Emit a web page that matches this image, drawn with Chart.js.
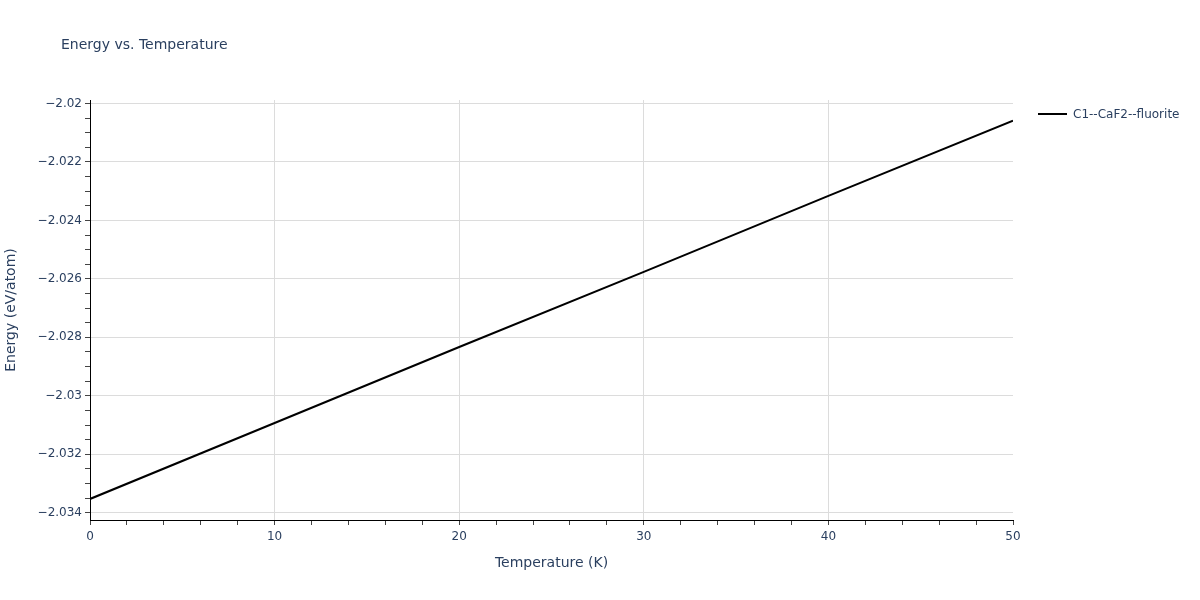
<!DOCTYPE html>
<html>
<head>
<meta charset="utf-8">
<script src="https://cdn.jsdelivr.net/npm/chart.js@4.4.0/dist/chart.umd.min.js"></script>
<style>
  html, body { margin: 0; padding: 0; background: #fff; }
  canvas { display: block; }
</style>
</head>
<body>
<canvas id="c" width="1200" height="600"></canvas>
<script>
// ---- data ----
const temperatures = [0, 10, 20, 30, 40, 50];
const energies = [-2.03353, -2.03093, -2.02833, -2.02576, -2.02316, -2.02059];
const seriesName = 'C1--CaF2--fluorite';
const xMajorTicks = [0, 10, 20, 30, 40, 50];
const xMinorStep = 2;
const yMajorTicks = [-2.034, -2.032, -2.03, -2.028, -2.026, -2.024, -2.022, -2.02];
const yTickLabels = ['\u22122.034', '\u22122.032', '\u22122.03', '\u22122.028', '\u22122.026', '\u22122.024', '\u22122.022', '\u22122.02'];
const yMinorStep = 0.0005;
const chartTitle = 'Energy vs. Temperature';
const xTitle = 'Temperature (K)';
const yTitle = 'Energy (eV/atom)';

const TEXT = '#2a3f5f';
const FONT = '"DejaVu Sans", Verdana, sans-serif';
const near = (a, b) => Math.abs(a - b) < 1e-9;

const textPlugin = {
  id: 'texts',
  afterDraw(chart) {
    const ctx = chart.ctx;
    const a = chart.chartArea;
    ctx.save();
    ctx.fillStyle = TEXT;
    ctx.textBaseline = 'middle';
    // title
    ctx.font = '14px ' + FONT;
    ctx.textAlign = 'left';
    ctx.fillText(chartTitle, 61, 45.5);
    // x title
    ctx.font = '14px ' + FONT;
    ctx.textAlign = 'center';
    ctx.fillText(xTitle, (a.left + a.right) / 2, 563);
    // y title
    ctx.save();
    ctx.translate(11, (a.top + a.bottom) / 2);
    ctx.rotate(-Math.PI / 2);
    ctx.fillText(yTitle, 0, 0);
    ctx.restore();
    // legend
    ctx.strokeStyle = '#000';
    ctx.lineWidth = 2;
    ctx.beginPath();
    ctx.moveTo(1038, 114);
    ctx.lineTo(1067, 114);
    ctx.stroke();
    ctx.font = '12px ' + FONT;
    ctx.textAlign = 'left';
    ctx.fillText(seriesName, 1073, 115);
    ctx.restore();
  }
};

new Chart(document.getElementById('c'), {
  type: 'line',
  data: {
    labels: temperatures,
    datasets: [{
      label: seriesName,
      data: temperatures.map((t, i) => ({ x: t, y: energies[i] })),
      borderColor: '#000',
      borderWidth: 2,
      pointRadius: 0,
      tension: 0,
      fill: false
    }]
  },
  options: {
    responsive: false,
    devicePixelRatio: 1,
    animation: false,
    layout: { padding: { top: 100, right: 187, left: 0, bottom: 0 } },
    plugins: { legend: { display: false }, title: { display: false }, tooltip: { enabled: false } },
    scales: {
      x: {
        type: 'linear',
        min: 0, max: 50,
        afterBuildTicks(scale) {
          const t = [];
          for (let v = xMajorTicks[0]; v <= xMajorTicks[xMajorTicks.length - 1] + 1e-9; v += xMinorStep) t.push({ value: v });
          scale.ticks = t;
        },
        afterFit(scale) { scale.height = 80; },
        ticks: {
          autoSkip: false,
          maxRotation: 0,
          padding: 5,
          color: TEXT,
          font: { family: FONT, size: 12 },
          callback: (v) => xMajorTicks.some(m => near(m, v)) ? String(v) : ''
        },
        grid: {
          color: (c) => {
            const v = c.tick ? c.tick.value : null;
            if (v === null) return 'rgba(0,0,0,0)';
            if (near(v, 0) || near(v, 50)) return 'rgba(0,0,0,0)';
            return xMajorTicks.some(m => near(m, v)) ? '#dcdcdc' : 'rgba(0,0,0,0)';
          },
          tickColor: '#444',
          tickLength: 5,
          lineWidth: 1
        },
        border: { display: true, color: '#000', width: 1 }
      },
      y: {
        type: 'linear',
        min: -2.03425, max: -2.01988,
        afterBuildTicks(scale) {
          const t = [];
          const lo = yMajorTicks[0], hi = yMajorTicks[yMajorTicks.length - 1];
          const n = Math.round((hi - lo) / yMinorStep);
          for (let i = 0; i <= n; i++) t.push({ value: lo + i * yMinorStep });
          scale.ticks = t;
        },
        afterFit(scale) { scale.width = 90; },
        ticks: {
          autoSkip: false,
          padding: 3,
          color: TEXT,
          font: { family: FONT, size: 12 },
          callback: (v) => {
            const i = yMajorTicks.findIndex(m => near(m, v));
            return i >= 0 ? yTickLabels[i] : '';
          }
        },
        grid: {
          color: (c) => {
            const v = c.tick ? c.tick.value : null;
            if (v === null) return 'rgba(0,0,0,0)';
            return yMajorTicks.some(m => near(m, v)) ? '#dcdcdc' : 'rgba(0,0,0,0)';
          },
          tickColor: '#444',
          tickLength: 5,
          lineWidth: 1
        },
        border: { display: true, color: '#000', width: 1 }
      }
    }
  },
  plugins: [textPlugin]
});
</script>
</body>
</html>
